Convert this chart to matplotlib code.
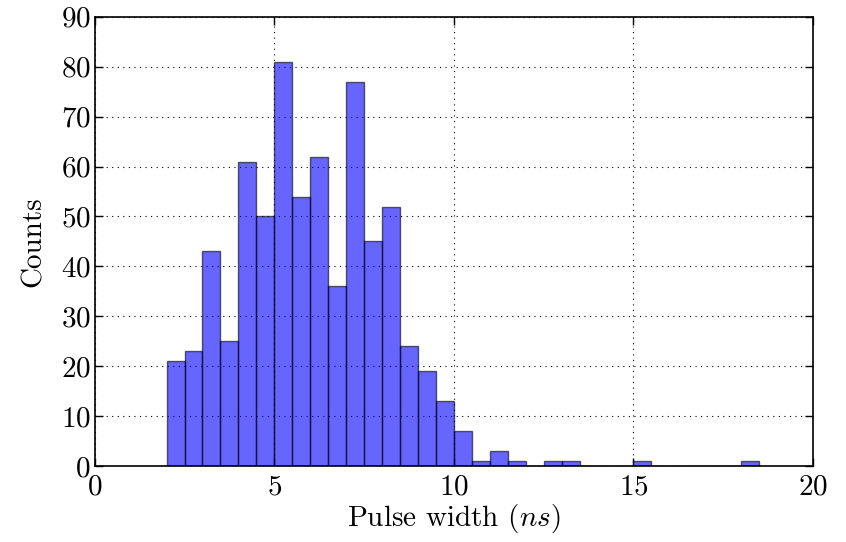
import numpy as np
import matplotlib
matplotlib.use("Agg")
import matplotlib.pyplot as plt

# Histogram of pulse widths, bin width 0.5 ns starting at 2 ns
bin_edges = np.arange(2.0, 18.5 + 0.25, 0.5)
counts = [21, 23, 43, 25, 61, 50, 81, 54, 62, 36, 77, 45, 52, 24, 19, 13,
          7, 1, 3, 1, 0, 1, 1, 0, 0, 0, 1, 0, 0, 0, 0, 0, 1]
bin_left = bin_edges[:-1]

plt.rcParams["font.family"] = "cmr10"
plt.rcParams["mathtext.fontset"] = "cm"
plt.rcParams["axes.formatter.use_mathtext"] = True

fig, ax = plt.subplots(figsize = (8.46, 5.42), dpi = 100)
plt.subplots_adjust(left = 0.112, right = 0.961, top = 0.969, bottom = 0.140)

ax.hist(bin_left, bins = bin_edges, weights = counts, color = "b", alpha = 0.6,
        edgecolor = "black", linewidth = 1.0)

ax.set_xlim(0, 20)
ax.set_ylim(0, 90)
ax.set_xticks([0, 5, 10, 15, 20])
ax.set_yticks(np.arange(0, 91, 10))

ax.grid(True, color = "black", linestyle = (0, (1, 4)), linewidth = 0.8)
ax.set_axisbelow(True)

ax.tick_params(direction = "in", top = True, right = True, length = 6, width = 1,
               labelsize = 21)
ax.tick_params(axis = "x", pad = 6)
ax.tick_params(axis = "y", pad = 3)
for sp in ax.spines.values():
    sp.set_linewidth(1.2)

ax.set_xlabel(r"Pulse width $(ns)$", fontsize = 21, labelpad = 1)
ax.set_ylabel("Counts", fontsize = 21, labelpad = 10)

fig.savefig("out.png")
